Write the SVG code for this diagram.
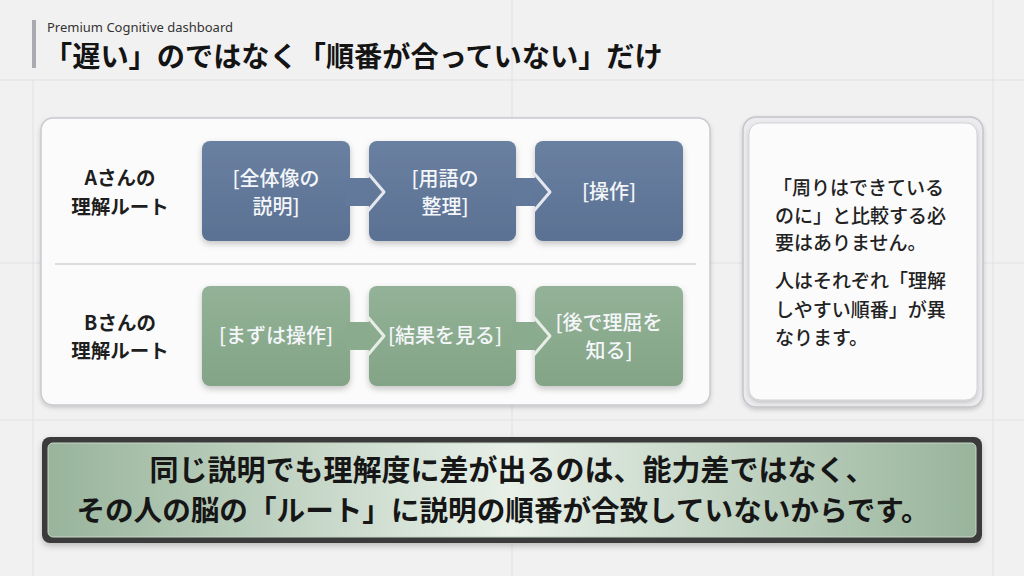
<svg xmlns="http://www.w3.org/2000/svg" width="1024" height="576" viewBox="0 0 1024 576">
<defs>
<style>
.jp{font-family:"Noto Sans CJK JP","Noto Sans",sans-serif}
.lbl{font-size:19.5px;font-weight:700;fill:#1e1e1e;text-anchor:middle}
.bt{font-size:20px;font-weight:500;fill:#f4f6f9;text-anchor:middle}
.side{font-size:19px;font-weight:500;fill:#222}
.ban{font-weight:700;fill:#161616;text-anchor:middle}
.grid{stroke:#e1e1e4;stroke-width:1}
.chev{fill:none;stroke-width:3;stroke-linejoin:round}
</style>
<linearGradient id="blue" x1="0" y1="0" x2="0" y2="1">
<stop offset="0" stop-color="#6a80a1"/><stop offset="1" stop-color="#5b7193"/>
</linearGradient>
<linearGradient id="green" x1="0" y1="0" x2="0" y2="1">
<stop offset="0" stop-color="#93b297"/><stop offset="1" stop-color="#83a487"/>
</linearGradient>
<linearGradient id="ban" x1="0" y1="0" x2="1" y2="0">
<stop offset="0" stop-color="#98b49b"/><stop offset="0.5" stop-color="#e8f0e8"/><stop offset="1" stop-color="#98b49b"/>
</linearGradient>
<filter id="sh" x="-10%" y="-10%" width="120%" height="130%">
<feDropShadow dx="0" dy="3" stdDeviation="3" flood-color="#000" flood-opacity="0.22"/>
</filter>
<filter id="sh2" x="-10%" y="-10%" width="120%" height="130%">
<feDropShadow dx="0" dy="2" stdDeviation="2" flood-color="#000" flood-opacity="0.18"/>
</filter>
</defs>
<rect width="1024" height="576" fill="#f1f1f2"/>
<g id="grid">
<line class="grid" x1="0" y1="80" x2="1024" y2="80"/>
<line class="grid" x1="0" y1="263" x2="1024" y2="263"/>
<line class="grid" x1="0" y1="420" x2="1024" y2="420"/>
<line class="grid" x1="33" y1="80" x2="33" y2="576"/>
<line class="grid" x1="512" y1="0" x2="512" y2="576"/>
<line class="grid" x1="993" y1="0" x2="993" y2="576"/>
</g>
<g id="header">
<rect x="32" y="20" width="4" height="48" fill="#a9abb0"/>
<text x="47" y="32" font-family="'Noto Sans','Open Sans',sans-serif" font-size="13" fill="#333">Premium Cognitive dashboard</text>
<text class="jp" x="44" y="67" font-size="28.2" font-weight="700" fill="#141414">「遅い」のではなく「順番が合っていない」だけ</text>
</g>
<g id="panel">
<rect x="41" y="118" width="669" height="287" rx="12" fill="#fbfbfc" stroke="#c9c9ce" stroke-width="1.5" filter="url(#sh2)"/>
<line x1="55" y1="264" x2="696" y2="264" stroke="#d3d3d8" stroke-width="1.5"/>
</g>
<g id="labelA"><text class="jp lbl" x="120" y="185">Aさんの</text><text class="jp lbl" x="120" y="214">理解ルート</text></g>
<g id="labelB"><text class="jp lbl" x="120" y="330">Bさんの</text><text class="jp lbl" x="120" y="358">理解ルート</text></g>
<g id="a1"><rect x="202" y="141" width="148" height="100" rx="8" fill="url(#blue)" filter="url(#sh)"/><text class="jp bt" x="276" y="186">[全体像の</text><text class="jp bt" x="276" y="214">説明]</text></g>
<g id="a2"><rect x="369" y="141" width="147" height="100" rx="8" fill="url(#blue)" filter="url(#sh)"/><text class="jp bt" x="445" y="186">[用語の</text><text class="jp bt" x="445" y="214">整理]</text></g>
<g id="a3"><rect x="535" y="141" width="148" height="100" rx="8" fill="url(#blue)" filter="url(#sh)"/><text class="jp bt" x="609" y="199">[操作]</text></g>
<g id="b1"><rect x="202" y="286" width="148" height="100" rx="8" fill="url(#green)" filter="url(#sh)"/><text class="jp bt" x="276" y="343">[まずは操作]</text></g>
<g id="b2"><rect x="369" y="286" width="147" height="100" rx="8" fill="url(#green)" filter="url(#sh)"/><text class="jp bt" x="445" y="343">[結果を見る]</text></g>
<g id="b3"><rect x="535" y="286" width="148" height="100" rx="8" fill="url(#green)" filter="url(#sh)"/><text class="jp bt" x="609" y="330">[後で理屈を</text><text class="jp bt" x="609" y="358">知る]</text></g>
<g id="connectors">
<path d="M346,178 H369 V206 H346 Z" fill="#63799b"/>
<path d="M367,172 L384,192 L367,212" class="chev" stroke="#e4e8ee"/>
<path d="M512,178 H535 V206 H512 Z" fill="#63799b"/>
<path d="M533,172 L550,192 L533,212" class="chev" stroke="#e4e8ee"/>
<path d="M346,322 H369 V350 H346 Z" fill="#8bab8f"/>
<path d="M367,316 L384,336 L367,356" class="chev" stroke="#e6eee6"/>
<path d="M512,322 H535 V350 H512 Z" fill="#8bab8f"/>
<path d="M533,316 L550,336 L533,356" class="chev" stroke="#e6eee6"/>
</g>
<g id="note">
<rect x="743" y="117" width="240" height="290" rx="13" fill="#ececee" stroke="#c4c4c9" stroke-width="1.5" filter="url(#sh2)"/>
<rect x="749" y="123" width="228" height="277" rx="11" fill="#fbfbfc" stroke="#d2d2d6" stroke-width="1" filter="url(#sh2)"/>
<text class="jp side" x="773" y="195">「周りはできている</text>
<text class="jp side" x="775" y="223">のに」と比較する必</text>
<text class="jp side" x="775" y="250">要はありません。</text>
<text class="jp side" x="775" y="288">人はそれぞれ「理解</text>
<text class="jp side" x="775" y="317">しやすい順番」が異</text>
<text class="jp side" x="775" y="345">なります。</text>
</g>
<g id="banner">
<rect x="42" y="437" width="940" height="106" rx="8" fill="#3b3b3b" filter="url(#sh)"/>
<rect x="48" y="443" width="928" height="94" rx="5" fill="url(#ban)" stroke="#c9d6c9" stroke-width="1"/>
<text class="jp ban" x="512" y="481" font-size="29">同じ説明でも理解度に差が出るのは、能力差ではなく、</text>
<text class="jp ban" x="503" y="521" font-size="28.6">その人の脳の「ルート」に説明の順番が合致していないからです。</text>
</g>
</svg>
